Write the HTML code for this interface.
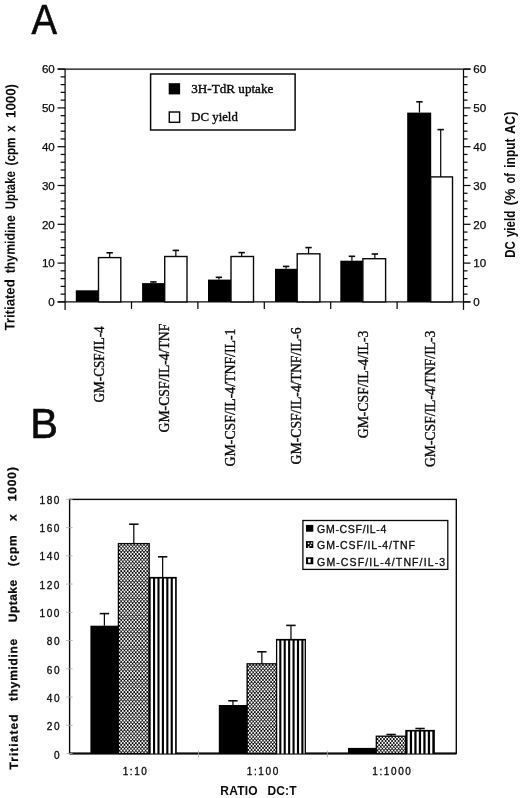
<!DOCTYPE html>
<html><head><meta charset="utf-8"><title>Figure</title>
<style>html,body{margin:0;padding:0;background:#fff}svg{display:block;filter:grayscale(1)}text{fill:#0a0a0a}</style></head><body>
<svg width="520" height="798" viewBox="0 0 520 798">
<defs>
<pattern id="dots" width="3.25" height="3.78" patternUnits="userSpaceOnUse" x="120.2" y="545.6">
<rect width="3.25" height="3.78" fill="#000"/>
<ellipse cx="0.8125" cy="0.945" rx="0.98" ry="1.02" fill="#fff"/>
<ellipse cx="2.4375" cy="2.835" rx="0.98" ry="1.02" fill="#fff"/>
</pattern>
</defs>
<rect width="520" height="798" fill="#fff"/>
<text transform="translate(31.4,33.7) scale(0.903,1)" font-family="Liberation Sans, sans-serif" font-size="42.4" stroke="#0a0a0a" stroke-width="0.6">A</text>
<text transform="translate(30.3,438.1) scale(0.96,1)" font-family="Liberation Sans, sans-serif" font-size="43.2" stroke="#0a0a0a" stroke-width="0.6">B</text>
<g stroke="#0a0a0a" stroke-width="1.25" fill="none">
<line x1="65.1" y1="69.1" x2="65.1" y2="309.9"/>
<line x1="463.5" y1="69.1" x2="463.5" y2="309.9"/>
<line x1="57.599999999999994" y1="69.1" x2="470.5" y2="69.1"/>
<line x1="57.599999999999994" y1="301.9" x2="470.5" y2="301.9"/>
<line x1="57.599999999999994" y1="69.10" x2="65.1" y2="69.10"/><line x1="463.5" y1="69.10" x2="470.5" y2="69.10"/>
<line x1="60.599999999999994" y1="76.86" x2="65.1" y2="76.86"/><line x1="463.5" y1="76.86" x2="467.5" y2="76.86"/>
<line x1="60.599999999999994" y1="84.62" x2="65.1" y2="84.62"/><line x1="463.5" y1="84.62" x2="467.5" y2="84.62"/>
<line x1="60.599999999999994" y1="92.38" x2="65.1" y2="92.38"/><line x1="463.5" y1="92.38" x2="467.5" y2="92.38"/>
<line x1="60.599999999999994" y1="100.14" x2="65.1" y2="100.14"/><line x1="463.5" y1="100.14" x2="467.5" y2="100.14"/>
<line x1="57.599999999999994" y1="107.90" x2="65.1" y2="107.90"/><line x1="463.5" y1="107.90" x2="470.5" y2="107.90"/>
<line x1="60.599999999999994" y1="115.66" x2="65.1" y2="115.66"/><line x1="463.5" y1="115.66" x2="467.5" y2="115.66"/>
<line x1="60.599999999999994" y1="123.42" x2="65.1" y2="123.42"/><line x1="463.5" y1="123.42" x2="467.5" y2="123.42"/>
<line x1="60.599999999999994" y1="131.18" x2="65.1" y2="131.18"/><line x1="463.5" y1="131.18" x2="467.5" y2="131.18"/>
<line x1="60.599999999999994" y1="138.94" x2="65.1" y2="138.94"/><line x1="463.5" y1="138.94" x2="467.5" y2="138.94"/>
<line x1="57.599999999999994" y1="146.70" x2="65.1" y2="146.70"/><line x1="463.5" y1="146.70" x2="470.5" y2="146.70"/>
<line x1="60.599999999999994" y1="154.46" x2="65.1" y2="154.46"/><line x1="463.5" y1="154.46" x2="467.5" y2="154.46"/>
<line x1="60.599999999999994" y1="162.22" x2="65.1" y2="162.22"/><line x1="463.5" y1="162.22" x2="467.5" y2="162.22"/>
<line x1="60.599999999999994" y1="169.98" x2="65.1" y2="169.98"/><line x1="463.5" y1="169.98" x2="467.5" y2="169.98"/>
<line x1="60.599999999999994" y1="177.74" x2="65.1" y2="177.74"/><line x1="463.5" y1="177.74" x2="467.5" y2="177.74"/>
<line x1="57.599999999999994" y1="185.50" x2="65.1" y2="185.50"/><line x1="463.5" y1="185.50" x2="470.5" y2="185.50"/>
<line x1="60.599999999999994" y1="193.26" x2="65.1" y2="193.26"/><line x1="463.5" y1="193.26" x2="467.5" y2="193.26"/>
<line x1="60.599999999999994" y1="201.02" x2="65.1" y2="201.02"/><line x1="463.5" y1="201.02" x2="467.5" y2="201.02"/>
<line x1="60.599999999999994" y1="208.78" x2="65.1" y2="208.78"/><line x1="463.5" y1="208.78" x2="467.5" y2="208.78"/>
<line x1="60.599999999999994" y1="216.54" x2="65.1" y2="216.54"/><line x1="463.5" y1="216.54" x2="467.5" y2="216.54"/>
<line x1="57.599999999999994" y1="224.30" x2="65.1" y2="224.30"/><line x1="463.5" y1="224.30" x2="470.5" y2="224.30"/>
<line x1="60.599999999999994" y1="232.06" x2="65.1" y2="232.06"/><line x1="463.5" y1="232.06" x2="467.5" y2="232.06"/>
<line x1="60.599999999999994" y1="239.82" x2="65.1" y2="239.82"/><line x1="463.5" y1="239.82" x2="467.5" y2="239.82"/>
<line x1="60.599999999999994" y1="247.58" x2="65.1" y2="247.58"/><line x1="463.5" y1="247.58" x2="467.5" y2="247.58"/>
<line x1="60.599999999999994" y1="255.34" x2="65.1" y2="255.34"/><line x1="463.5" y1="255.34" x2="467.5" y2="255.34"/>
<line x1="57.599999999999994" y1="263.10" x2="65.1" y2="263.10"/><line x1="463.5" y1="263.10" x2="470.5" y2="263.10"/>
<line x1="60.599999999999994" y1="270.86" x2="65.1" y2="270.86"/><line x1="463.5" y1="270.86" x2="467.5" y2="270.86"/>
<line x1="60.599999999999994" y1="278.62" x2="65.1" y2="278.62"/><line x1="463.5" y1="278.62" x2="467.5" y2="278.62"/>
<line x1="60.599999999999994" y1="286.38" x2="65.1" y2="286.38"/><line x1="463.5" y1="286.38" x2="467.5" y2="286.38"/>
<line x1="60.599999999999994" y1="294.14" x2="65.1" y2="294.14"/><line x1="463.5" y1="294.14" x2="467.5" y2="294.14"/>
<line x1="57.599999999999994" y1="301.90" x2="65.1" y2="301.90"/><line x1="463.5" y1="301.90" x2="470.5" y2="301.90"/>
<line x1="131.50" y1="301.9" x2="131.50" y2="308.9"/>
<line x1="197.90" y1="301.9" x2="197.90" y2="308.9"/>
<line x1="264.30" y1="301.9" x2="264.30" y2="308.9"/>
<line x1="330.70" y1="301.9" x2="330.70" y2="308.9"/>
<line x1="397.10" y1="301.9" x2="397.10" y2="308.9"/>
</g>
<text x="54.8" y="73.30" font-family="Liberation Sans, sans-serif" font-size="11.6" text-anchor="end" stroke="#0a0a0a" stroke-width="0.25">60</text>
<text x="473.2" y="73.30" font-family="Liberation Sans, sans-serif" font-size="11.6" stroke="#0a0a0a" stroke-width="0.25">60</text>
<text x="54.8" y="112.10" font-family="Liberation Sans, sans-serif" font-size="11.6" text-anchor="end" stroke="#0a0a0a" stroke-width="0.25">50</text>
<text x="473.2" y="112.10" font-family="Liberation Sans, sans-serif" font-size="11.6" stroke="#0a0a0a" stroke-width="0.25">50</text>
<text x="54.8" y="150.90" font-family="Liberation Sans, sans-serif" font-size="11.6" text-anchor="end" stroke="#0a0a0a" stroke-width="0.25">40</text>
<text x="473.2" y="150.90" font-family="Liberation Sans, sans-serif" font-size="11.6" stroke="#0a0a0a" stroke-width="0.25">40</text>
<text x="54.8" y="189.70" font-family="Liberation Sans, sans-serif" font-size="11.6" text-anchor="end" stroke="#0a0a0a" stroke-width="0.25">30</text>
<text x="473.2" y="189.70" font-family="Liberation Sans, sans-serif" font-size="11.6" stroke="#0a0a0a" stroke-width="0.25">30</text>
<text x="54.8" y="228.50" font-family="Liberation Sans, sans-serif" font-size="11.6" text-anchor="end" stroke="#0a0a0a" stroke-width="0.25">20</text>
<text x="473.2" y="228.50" font-family="Liberation Sans, sans-serif" font-size="11.6" stroke="#0a0a0a" stroke-width="0.25">20</text>
<text x="54.8" y="267.30" font-family="Liberation Sans, sans-serif" font-size="11.6" text-anchor="end" stroke="#0a0a0a" stroke-width="0.25">10</text>
<text x="473.2" y="267.30" font-family="Liberation Sans, sans-serif" font-size="11.6" stroke="#0a0a0a" stroke-width="0.25">10</text>
<text x="54.8" y="306.10" font-family="Liberation Sans, sans-serif" font-size="11.6" text-anchor="end" stroke="#0a0a0a" stroke-width="0.25">0</text>
<text x="473.2" y="306.10" font-family="Liberation Sans, sans-serif" font-size="11.6" stroke="#0a0a0a" stroke-width="0.25">0</text>
<rect x="75.8" y="290.3" width="23.20" height="11.60" fill="#000"/>
<rect x="98.5" y="257.6" width="22.30" height="44.30" fill="#fff" stroke="#0a0a0a" stroke-width="1.4"/>
<path d="M109.65 257.6 V252.8" stroke="#0a0a0a" stroke-width="1.25" fill="none"/><path d="M106.45 252.8 H112.85" stroke="#0a0a0a" stroke-width="1.6" fill="none"/>
<rect x="142.1" y="283.1" width="23.10" height="18.80" fill="#000"/>
<rect x="164.7" y="256.5" width="22.30" height="45.40" fill="#fff" stroke="#0a0a0a" stroke-width="1.4"/>
<path d="M153.40 283.1 V281.9" stroke="#0a0a0a" stroke-width="1.25" fill="none"/><path d="M150.20 281.9 H156.60" stroke="#0a0a0a" stroke-width="1.6" fill="none"/>
<path d="M175.85 256.5 V250.4" stroke="#0a0a0a" stroke-width="1.25" fill="none"/><path d="M172.65 250.4 H179.05" stroke="#0a0a0a" stroke-width="1.6" fill="none"/>
<rect x="208.0" y="279.6" width="23.50" height="22.30" fill="#000"/>
<rect x="231.0" y="256.5" width="22.50" height="45.40" fill="#fff" stroke="#0a0a0a" stroke-width="1.4"/>
<path d="M218.90 279.6 V277.3" stroke="#0a0a0a" stroke-width="1.25" fill="none"/><path d="M215.70 277.3 H222.10" stroke="#0a0a0a" stroke-width="1.6" fill="none"/>
<path d="M241.65 256.5 V252.6" stroke="#0a0a0a" stroke-width="1.25" fill="none"/><path d="M238.45 252.6 H244.85" stroke="#0a0a0a" stroke-width="1.6" fill="none"/>
<rect x="275.0" y="268.8" width="22.70" height="33.10" fill="#000"/>
<rect x="297.2" y="253.8" width="22.70" height="48.10" fill="#fff" stroke="#0a0a0a" stroke-width="1.4"/>
<path d="M286.10 268.8 V266.4" stroke="#0a0a0a" stroke-width="1.25" fill="none"/><path d="M282.90 266.4 H289.30" stroke="#0a0a0a" stroke-width="1.6" fill="none"/>
<path d="M308.55 253.8 V247.6" stroke="#0a0a0a" stroke-width="1.25" fill="none"/><path d="M305.35 247.6 H311.75" stroke="#0a0a0a" stroke-width="1.6" fill="none"/>
<rect x="340.3" y="260.7" width="23.10" height="41.20" fill="#000"/>
<rect x="362.9" y="258.7" width="22.70" height="43.20" fill="#fff" stroke="#0a0a0a" stroke-width="1.4"/>
<path d="M351.90 260.7 V256.3" stroke="#0a0a0a" stroke-width="1.25" fill="none"/><path d="M348.70 256.3 H355.10" stroke="#0a0a0a" stroke-width="1.6" fill="none"/>
<path d="M374.85 258.7 V254.0" stroke="#0a0a0a" stroke-width="1.25" fill="none"/><path d="M371.65 254.0 H378.05" stroke="#0a0a0a" stroke-width="1.6" fill="none"/>
<rect x="407.2" y="112.6" width="24.00" height="189.30" fill="#000"/>
<rect x="430.7" y="176.9" width="21.80" height="125.00" fill="#fff" stroke="#0a0a0a" stroke-width="1.4"/>
<path d="M419.45 112.6 V101.8" stroke="#0a0a0a" stroke-width="1.25" fill="none"/><path d="M416.25 101.8 H422.65" stroke="#0a0a0a" stroke-width="1.6" fill="none"/>
<path d="M440.70 176.9 V129.6" stroke="#0a0a0a" stroke-width="1.25" fill="none"/><path d="M437.50 129.6 H443.90" stroke="#0a0a0a" stroke-width="1.6" fill="none"/>
<rect x="150.6" y="74.0" width="144.5" height="56.0" fill="#fff" stroke="#0a0a0a" stroke-width="1.5"/>
<rect x="168.7" y="83.2" width="11.4" height="11.2" fill="#000"/>
<rect x="169.3" y="112" width="10.3" height="10.3" fill="#fff" stroke="#0a0a0a" stroke-width="1.45"/>
<text x="191.3" y="93.2" font-family="Liberation Serif, serif" font-size="13.5" stroke="#0a0a0a" stroke-width="0.4" textLength="82" lengthAdjust="spacingAndGlyphs">3H-TdR uptake</text>
<text x="191.3" y="121.3" font-family="Liberation Serif, serif" font-size="13.5" stroke="#0a0a0a" stroke-width="0.4" textLength="46.5" lengthAdjust="spacingAndGlyphs">DC yield</text>
<text transform="translate(103.6,402.5) rotate(-90)" font-family="Liberation Serif, serif" font-size="14.5" textLength="76.2" lengthAdjust="spacingAndGlyphs" stroke="#0a0a0a" stroke-width="0.35">GM-CSF/IL-4</text>
<text transform="translate(169.4,432.5) rotate(-90)" font-family="Liberation Serif, serif" font-size="14.5" textLength="108.9" lengthAdjust="spacingAndGlyphs" stroke="#0a0a0a" stroke-width="0.35">GM-CSF/IL-4/TNF</text>
<text transform="translate(235.3,466.4) rotate(-90)" font-family="Liberation Serif, serif" font-size="14.5" textLength="137.8" lengthAdjust="spacingAndGlyphs" stroke="#0a0a0a" stroke-width="0.35">GM-CSF/IL-4/TNF/IL-1</text>
<text transform="translate(300.8,464.4) rotate(-90)" font-family="Liberation Serif, serif" font-size="14.5" textLength="137" lengthAdjust="spacingAndGlyphs" stroke="#0a0a0a" stroke-width="0.35">GM-CSF/IL-4/TNF/IL-6</text>
<text transform="translate(368.3,438.3) rotate(-90)" font-family="Liberation Serif, serif" font-size="14.5" textLength="107.7" lengthAdjust="spacingAndGlyphs" stroke="#0a0a0a" stroke-width="0.35">GM-CSF/IL-4/IL-3</text>
<text transform="translate(434.7,467) rotate(-90)" font-family="Liberation Serif, serif" font-size="14.5" textLength="136.4" lengthAdjust="spacingAndGlyphs" stroke="#0a0a0a" stroke-width="0.35">GM-CSF/IL-4/TNF/IL-3</text>
<text transform="translate(14.40,330.5) rotate(-89.72)" font-family="Liberation Sans, sans-serif" font-weight="bold" font-size="14" textLength="51.2" lengthAdjust="spacingAndGlyphs">Tritiated</text>
<text transform="translate(14.69,273.3) rotate(-89.72)" font-family="Liberation Sans, sans-serif" font-weight="bold" font-size="14" textLength="58.1" lengthAdjust="spacingAndGlyphs">thymidine</text>
<text transform="translate(14.96,209.2) rotate(-89.72)" font-family="Liberation Sans, sans-serif" font-weight="bold" font-size="14" textLength="38.1" lengthAdjust="spacingAndGlyphs">Uptake</text>
<text transform="translate(15.15,165.5) rotate(-89.72)" font-family="Liberation Sans, sans-serif" font-weight="bold" font-size="14" textLength="28" lengthAdjust="spacingAndGlyphs">(cpm</text>
<text transform="translate(15.26,132) rotate(-89.72)" font-family="Liberation Sans, sans-serif" font-weight="bold" font-size="14" textLength="6.6" lengthAdjust="spacingAndGlyphs">x</text>
<text transform="translate(15.40,118) rotate(-89.72)" font-family="Liberation Sans, sans-serif" font-weight="bold" font-size="14" textLength="34" lengthAdjust="spacingAndGlyphs">1000)</text>
<text transform="translate(514.8,257.7) rotate(-90)" font-family="Liberation Sans, sans-serif" font-weight="bold" font-size="13.8" textLength="16.5" lengthAdjust="spacingAndGlyphs">DC</text>
<text transform="translate(514.8,237.1) rotate(-90)" font-family="Liberation Sans, sans-serif" font-weight="bold" font-size="13.8" textLength="26.5" lengthAdjust="spacingAndGlyphs">yield</text>
<text transform="translate(514.8,205.6) rotate(-90)" font-family="Liberation Sans, sans-serif" font-weight="bold" font-size="13.8" textLength="17.1" lengthAdjust="spacingAndGlyphs">(%</text>
<text transform="translate(514.8,183.5) rotate(-90)" font-family="Liberation Sans, sans-serif" font-weight="bold" font-size="13.8" textLength="10.3" lengthAdjust="spacingAndGlyphs">of</text>
<text transform="translate(514.8,167.7) rotate(-90)" font-family="Liberation Sans, sans-serif" font-weight="bold" font-size="13.8" textLength="29.1" lengthAdjust="spacingAndGlyphs">input</text>
<text transform="translate(514.8,134.1) rotate(-90)" font-family="Liberation Sans, sans-serif" font-weight="bold" font-size="13.8" textLength="22.6" lengthAdjust="spacingAndGlyphs">AC)</text>
<rect x="69.6" y="499.4" width="386.70" height="254.10" fill="none" stroke="#0a0a0a" stroke-width="1.4"/>
<line x1="69.6" y1="753.5" x2="456.3" y2="753.5" stroke="#0a0a0a" stroke-width="1.8"/>
<line x1="66.1" y1="499.40" x2="72.6" y2="499.40" stroke="#aaa" stroke-width="0.8"/>
<text x="59.5" y="503.50" font-family="Liberation Sans, sans-serif" font-size="10.1" text-anchor="end" letter-spacing="1.55" dx="1.55" stroke="#0a0a0a" stroke-width="0.3">180</text>
<line x1="66.1" y1="527.63" x2="72.6" y2="527.63" stroke="#aaa" stroke-width="0.8"/>
<text x="59.5" y="531.84" font-family="Liberation Sans, sans-serif" font-size="10.1" text-anchor="end" letter-spacing="1.55" dx="1.55" stroke="#0a0a0a" stroke-width="0.3">160</text>
<line x1="66.1" y1="555.87" x2="72.6" y2="555.87" stroke="#aaa" stroke-width="0.8"/>
<text x="59.5" y="560.18" font-family="Liberation Sans, sans-serif" font-size="10.1" text-anchor="end" letter-spacing="1.55" dx="1.55" stroke="#0a0a0a" stroke-width="0.3">140</text>
<line x1="66.1" y1="584.10" x2="72.6" y2="584.10" stroke="#aaa" stroke-width="0.8"/>
<text x="59.5" y="588.52" font-family="Liberation Sans, sans-serif" font-size="10.1" text-anchor="end" letter-spacing="1.55" dx="1.55" stroke="#0a0a0a" stroke-width="0.3">120</text>
<line x1="66.1" y1="612.33" x2="72.6" y2="612.33" stroke="#aaa" stroke-width="0.8"/>
<text x="59.5" y="616.86" font-family="Liberation Sans, sans-serif" font-size="10.1" text-anchor="end" letter-spacing="1.55" dx="1.55" stroke="#0a0a0a" stroke-width="0.3">100</text>
<line x1="66.1" y1="640.57" x2="72.6" y2="640.57" stroke="#aaa" stroke-width="0.8"/>
<text x="59.5" y="645.20" font-family="Liberation Sans, sans-serif" font-size="10.1" text-anchor="end" letter-spacing="1.55" dx="1.55" stroke="#0a0a0a" stroke-width="0.3">80</text>
<line x1="66.1" y1="668.80" x2="72.6" y2="668.80" stroke="#aaa" stroke-width="0.8"/>
<text x="59.5" y="673.54" font-family="Liberation Sans, sans-serif" font-size="10.1" text-anchor="end" letter-spacing="1.55" dx="1.55" stroke="#0a0a0a" stroke-width="0.3">60</text>
<line x1="66.1" y1="697.03" x2="72.6" y2="697.03" stroke="#aaa" stroke-width="0.8"/>
<text x="59.5" y="701.88" font-family="Liberation Sans, sans-serif" font-size="10.1" text-anchor="end" letter-spacing="1.55" dx="1.55" stroke="#0a0a0a" stroke-width="0.3">40</text>
<line x1="66.1" y1="725.27" x2="72.6" y2="725.27" stroke="#aaa" stroke-width="0.8"/>
<text x="59.5" y="730.22" font-family="Liberation Sans, sans-serif" font-size="10.1" text-anchor="end" letter-spacing="1.55" dx="1.55" stroke="#0a0a0a" stroke-width="0.3">20</text>
<line x1="66.1" y1="753.50" x2="72.6" y2="753.50" stroke="#aaa" stroke-width="0.8"/>
<text x="59.5" y="758.56" font-family="Liberation Sans, sans-serif" font-size="10.1" text-anchor="end" letter-spacing="1.55" dx="1.55" stroke="#0a0a0a" stroke-width="0.3">0</text>
<line x1="198.50" y1="750.5" x2="198.50" y2="757.5" stroke="#aaa" stroke-width="0.8"/>
<line x1="327.40" y1="750.5" x2="327.40" y2="757.5" stroke="#aaa" stroke-width="0.8"/>
<rect x="90.4" y="625.7" width="28.00" height="127.80" fill="#000"/>
<clipPath id="c1"><rect x="118.4" y="543.6" width="30.80" height="209.90"/></clipPath>
<rect x="118.4" y="543.6" width="30.80" height="209.90" fill="#000"/>
<g clip-path="url(#c1)" stroke="#fff" stroke-width="2.05" stroke-linecap="round" stroke-dasharray="0 3.78" fill="none">
<line x1="119.60" y1="544.61" x2="119.60" y2="757.28"/>
<line x1="121.23" y1="542.72" x2="121.23" y2="757.28"/>
<line x1="122.85" y1="544.61" x2="122.85" y2="757.28"/>
<line x1="124.48" y1="542.72" x2="124.48" y2="757.28"/>
<line x1="126.10" y1="544.61" x2="126.10" y2="757.28"/>
<line x1="127.73" y1="542.72" x2="127.73" y2="757.28"/>
<line x1="129.35" y1="544.61" x2="129.35" y2="757.28"/>
<line x1="130.98" y1="542.72" x2="130.98" y2="757.28"/>
<line x1="132.60" y1="544.61" x2="132.60" y2="757.28"/>
<line x1="134.23" y1="542.72" x2="134.23" y2="757.28"/>
<line x1="135.85" y1="544.61" x2="135.85" y2="757.28"/>
<line x1="137.48" y1="542.72" x2="137.48" y2="757.28"/>
<line x1="139.10" y1="544.61" x2="139.10" y2="757.28"/>
<line x1="140.73" y1="542.72" x2="140.73" y2="757.28"/>
<line x1="142.35" y1="544.61" x2="142.35" y2="757.28"/>
<line x1="143.98" y1="542.72" x2="143.98" y2="757.28"/>
<line x1="145.60" y1="544.61" x2="145.60" y2="757.28"/>
<line x1="147.23" y1="542.72" x2="147.23" y2="757.28"/>
<line x1="148.85" y1="544.61" x2="148.85" y2="757.28"/>
</g>
<rect x="118.4" y="543.6" width="30.80" height="209.90" fill="none" stroke="#0a0a0a" stroke-width="1.3"/>
<rect x="148.55" y="576.90" width="28.20" height="176.60" fill="#000"/>
<rect x="150.70" y="578.55" width="2.30" height="174.95" fill="#fff"/>
<rect x="155.12" y="578.55" width="2.30" height="174.95" fill="#fff"/>
<rect x="159.54" y="578.55" width="2.30" height="174.95" fill="#fff"/>
<rect x="163.96" y="578.55" width="2.30" height="174.95" fill="#fff"/>
<rect x="168.38" y="578.55" width="2.30" height="174.95" fill="#fff"/>
<rect x="172.80" y="578.55" width="2.30" height="174.95" fill="#fff"/>
<path d="M104.40 625.7 V613.6" stroke="#0a0a0a" stroke-width="1.25" fill="none"/><path d="M99.70 613.6 H109.10" stroke="#0a0a0a" stroke-width="1.55" fill="none"/>
<path d="M133.80 543.6 V524.2" stroke="#0a0a0a" stroke-width="1.25" fill="none"/><path d="M129.10 524.2 H138.50" stroke="#0a0a0a" stroke-width="1.55" fill="none"/>
<path d="M162.65 577.7 V556.8" stroke="#0a0a0a" stroke-width="1.25" fill="none"/><path d="M157.95 556.8 H167.35" stroke="#0a0a0a" stroke-width="1.55" fill="none"/>
<rect x="218.8" y="705.0" width="28.30" height="48.50" fill="#000"/>
<clipPath id="c2"><rect x="247.1" y="663.8" width="29.50" height="89.70"/></clipPath>
<rect x="247.1" y="663.8" width="29.50" height="89.70" fill="#000"/>
<g clip-path="url(#c2)" stroke="#fff" stroke-width="2.05" stroke-linecap="round" stroke-dasharray="0 3.78" fill="none">
<line x1="248.30" y1="664.81" x2="248.30" y2="757.28"/>
<line x1="249.92" y1="662.92" x2="249.92" y2="757.28"/>
<line x1="251.55" y1="664.81" x2="251.55" y2="757.28"/>
<line x1="253.17" y1="662.92" x2="253.17" y2="757.28"/>
<line x1="254.80" y1="664.81" x2="254.80" y2="757.28"/>
<line x1="256.42" y1="662.92" x2="256.42" y2="757.28"/>
<line x1="258.05" y1="664.81" x2="258.05" y2="757.28"/>
<line x1="259.67" y1="662.92" x2="259.67" y2="757.28"/>
<line x1="261.30" y1="664.81" x2="261.30" y2="757.28"/>
<line x1="262.92" y1="662.92" x2="262.92" y2="757.28"/>
<line x1="264.55" y1="664.81" x2="264.55" y2="757.28"/>
<line x1="266.17" y1="662.92" x2="266.17" y2="757.28"/>
<line x1="267.80" y1="664.81" x2="267.80" y2="757.28"/>
<line x1="269.42" y1="662.92" x2="269.42" y2="757.28"/>
<line x1="271.05" y1="664.81" x2="271.05" y2="757.28"/>
<line x1="272.67" y1="662.92" x2="272.67" y2="757.28"/>
<line x1="274.30" y1="664.81" x2="274.30" y2="757.28"/>
<line x1="275.92" y1="662.92" x2="275.92" y2="757.28"/>
</g>
<rect x="247.1" y="663.8" width="29.50" height="89.70" fill="none" stroke="#0a0a0a" stroke-width="1.3"/>
<rect x="275.95" y="638.90" width="30.00" height="114.60" fill="#000"/>
<rect x="277.25" y="640.55" width="2.00" height="112.95" fill="#fff"/>
<rect x="281.37" y="640.55" width="2.30" height="112.95" fill="#fff"/>
<rect x="285.79" y="640.55" width="2.30" height="112.95" fill="#fff"/>
<rect x="290.21" y="640.55" width="2.30" height="112.95" fill="#fff"/>
<rect x="294.63" y="640.55" width="2.30" height="112.95" fill="#fff"/>
<rect x="299.05" y="640.55" width="2.30" height="112.95" fill="#fff"/>
<rect x="303.47" y="640.55" width="1.18" height="112.95" fill="#fff"/>
<path d="M232.95 705.0 V700.8" stroke="#0a0a0a" stroke-width="1.25" fill="none"/><path d="M228.25 700.8 H237.65" stroke="#0a0a0a" stroke-width="1.55" fill="none"/>
<path d="M261.85 663.8 V651.8" stroke="#0a0a0a" stroke-width="1.25" fill="none"/><path d="M257.15 651.8 H266.55" stroke="#0a0a0a" stroke-width="1.55" fill="none"/>
<path d="M290.95 639.7 V625.4" stroke="#0a0a0a" stroke-width="1.25" fill="none"/><path d="M286.25 625.4 H295.65" stroke="#0a0a0a" stroke-width="1.55" fill="none"/>
<rect x="348.0" y="747.9" width="28.30" height="5.60" fill="#000"/>
<clipPath id="c3"><rect x="376.3" y="736.2" width="29.60" height="17.30"/></clipPath>
<rect x="376.3" y="736.2" width="29.60" height="17.30" fill="#000"/>
<g clip-path="url(#c3)" stroke="#fff" stroke-width="2.05" stroke-linecap="round" stroke-dasharray="0 3.78" fill="none">
<line x1="377.50" y1="737.21" x2="377.50" y2="757.28"/>
<line x1="379.12" y1="735.32" x2="379.12" y2="757.28"/>
<line x1="380.75" y1="737.21" x2="380.75" y2="757.28"/>
<line x1="382.38" y1="735.32" x2="382.38" y2="757.28"/>
<line x1="384.00" y1="737.21" x2="384.00" y2="757.28"/>
<line x1="385.62" y1="735.32" x2="385.62" y2="757.28"/>
<line x1="387.25" y1="737.21" x2="387.25" y2="757.28"/>
<line x1="388.88" y1="735.32" x2="388.88" y2="757.28"/>
<line x1="390.50" y1="737.21" x2="390.50" y2="757.28"/>
<line x1="392.12" y1="735.32" x2="392.12" y2="757.28"/>
<line x1="393.75" y1="737.21" x2="393.75" y2="757.28"/>
<line x1="395.38" y1="735.32" x2="395.38" y2="757.28"/>
<line x1="397.00" y1="737.21" x2="397.00" y2="757.28"/>
<line x1="398.62" y1="735.32" x2="398.62" y2="757.28"/>
<line x1="400.25" y1="737.21" x2="400.25" y2="757.28"/>
<line x1="401.88" y1="735.32" x2="401.88" y2="757.28"/>
<line x1="403.50" y1="737.21" x2="403.50" y2="757.28"/>
<line x1="405.12" y1="735.32" x2="405.12" y2="757.28"/>
</g>
<rect x="376.3" y="736.2" width="29.60" height="17.30" fill="none" stroke="#0a0a0a" stroke-width="1.3"/>
<rect x="405.25" y="729.90" width="29.60" height="23.60" fill="#000"/>
<rect x="407.57" y="731.55" width="2.25" height="21.95" fill="#fff"/>
<rect x="412.07" y="731.55" width="2.25" height="21.95" fill="#fff"/>
<rect x="416.57" y="731.55" width="2.25" height="21.95" fill="#fff"/>
<rect x="421.07" y="731.55" width="2.25" height="21.95" fill="#fff"/>
<rect x="425.57" y="731.55" width="2.25" height="21.95" fill="#fff"/>
<rect x="430.07" y="731.55" width="2.25" height="21.95" fill="#fff"/>
<path d="M391.10 736.2 V734.5" stroke="#0a0a0a" stroke-width="1.25" fill="none"/><path d="M386.40 734.5 H395.80" stroke="#0a0a0a" stroke-width="1.55" fill="none"/>
<path d="M420.05 730.7 V728.5" stroke="#0a0a0a" stroke-width="1.25" fill="none"/><path d="M415.35 728.5 H424.75" stroke="#0a0a0a" stroke-width="1.55" fill="none"/>
<text x="134.8" y="774.5" font-family="Liberation Sans, sans-serif" font-size="10" text-anchor="middle" letter-spacing="1.6" dx="0.8" stroke="#0a0a0a" stroke-width="0.3">1:10</text>
<text x="262.5" y="774.5" font-family="Liberation Sans, sans-serif" font-size="10" text-anchor="middle" letter-spacing="1.6" dx="0.8" stroke="#0a0a0a" stroke-width="0.3">1:100</text>
<text x="391.6" y="774.5" font-family="Liberation Sans, sans-serif" font-size="10" text-anchor="middle" letter-spacing="1.6" dx="0.8" stroke="#0a0a0a" stroke-width="0.3">1:1000</text>
<text x="220.3" y="794.6" font-family="Liberation Sans, sans-serif" font-weight="bold" font-size="12" textLength="37.4" lengthAdjust="spacing">RATIO</text>
<text x="267.4" y="794.6" font-family="Liberation Sans, sans-serif" font-weight="bold" font-size="12" textLength="29.1" lengthAdjust="spacing">DC:T</text>
<rect x="302.9" y="520.5" width="144.9" height="48.9" fill="#fff" stroke="#0a0a0a" stroke-width="1.3"/>
<rect x="306" y="524.9" width="7.3" height="6.8" fill="#000"/>
<rect x="306" y="541.1" width="7.3" height="6.9" fill="#000"/>
<circle cx="308.6" cy="543.4" r="0.85" fill="#fff"/>
<circle cx="310.7" cy="545.3" r="0.85" fill="#fff"/>
<circle cx="308.6" cy="547.0" r="0.85" fill="#fff"/>
<circle cx="311.6" cy="543.0" r="0.85" fill="#fff"/>
<rect x="306" y="557.3" width="7.3" height="6.9" fill="#000"/>
<rect x="308.1" y="558.9" width="2.5" height="3.8" fill="#fff"/>
<text x="317.1" y="532.7" font-family="Liberation Sans, sans-serif" font-size="10.5" textLength="69.3" lengthAdjust="spacing" stroke="#0a0a0a" stroke-width="0.3">GM-CSF/IL-4</text>
<text x="317.1" y="549.1" font-family="Liberation Sans, sans-serif" font-size="10.5" textLength="97.8" lengthAdjust="spacing" stroke="#0a0a0a" stroke-width="0.3">GM-CSF/IL-4/TNF</text>
<text x="317.1" y="565.7" font-family="Liberation Sans, sans-serif" font-size="10.5" textLength="128" lengthAdjust="spacing" stroke="#0a0a0a" stroke-width="0.3">GM-CSF/IL-4/TNF/IL-3</text>
<text transform="translate(18.00,769.5) rotate(-90.4)" font-family="Liberation Sans, sans-serif" font-weight="bold" font-size="12" textLength="55" lengthAdjust="spacing" stroke="#0a0a0a" stroke-width="0.25">Tritiated</text>
<text transform="translate(17.49,700.9) rotate(-90.4)" font-family="Liberation Sans, sans-serif" font-weight="bold" font-size="12" textLength="62.2" lengthAdjust="spacing" stroke="#0a0a0a" stroke-width="0.25">thymidine</text>
<text transform="translate(17.01,622.2) rotate(-90.4)" font-family="Liberation Sans, sans-serif" font-weight="bold" font-size="12" textLength="42.3" lengthAdjust="spacing" stroke="#0a0a0a" stroke-width="0.25">Uptake</text>
<text transform="translate(16.66,566.3) rotate(-90.4)" font-family="Liberation Sans, sans-serif" font-weight="bold" font-size="12" textLength="31.1" lengthAdjust="spacing" stroke="#0a0a0a" stroke-width="0.25">(cpm</text>
<text transform="translate(16.43,521) rotate(-90.4)" font-family="Liberation Sans, sans-serif" font-weight="bold" font-size="12" textLength="6.2" lengthAdjust="spacing" stroke="#0a0a0a" stroke-width="0.25">x</text>
<text transform="translate(16.19,501.2) rotate(-90.4)" font-family="Liberation Sans, sans-serif" font-weight="bold" font-size="12" textLength="34.1" lengthAdjust="spacing" stroke="#0a0a0a" stroke-width="0.25">1000)</text>
</svg></body></html>
